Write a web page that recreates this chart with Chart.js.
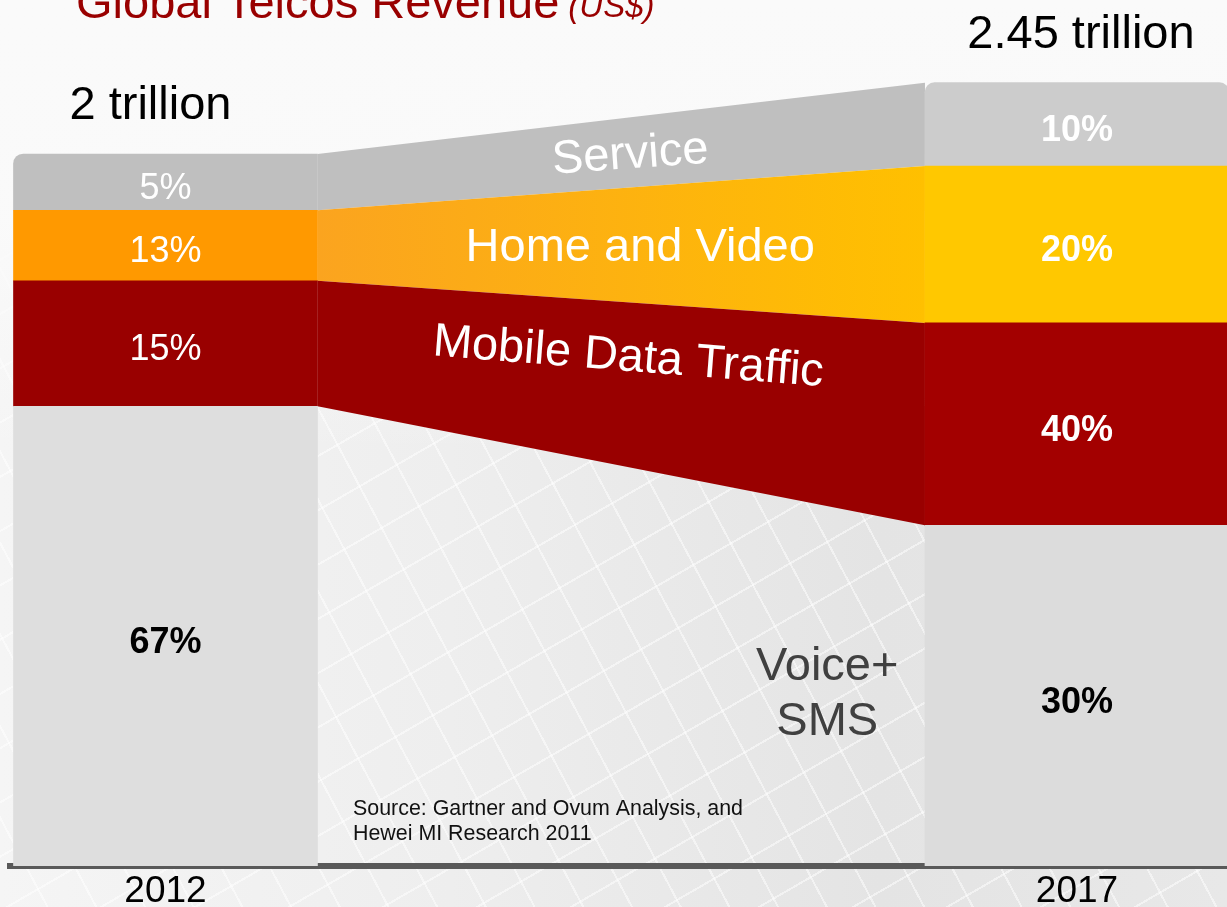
<!DOCTYPE html>
<html>
<head>
<meta charset="utf-8">
<script src="https://cdn.jsdelivr.net/npm/chart.js@4"></script>
<style>
html,body{margin:0;padding:0;background:#f7f7f7;}
#wrap{
position:relative;width:1227px;height:907px;overflow:hidden;
background:
linear-gradient(to bottom, rgba(250,250,250,1) 0px, rgba(250,250,250,0.96) 220px, rgba(250,250,250,0) 450px),
repeating-linear-gradient(62deg, rgba(255,255,255,0) 0px, rgba(255,255,255,0) 41px, rgba(255,255,255,0.5) 41px, rgba(255,255,255,0.5) 43px),
repeating-linear-gradient(-30deg, rgba(255,255,255,0) 0px, rgba(255,255,255,0) 45px, rgba(255,255,255,0.5) 45px, rgba(255,255,255,0.5) 47px),
linear-gradient(to right, #f5f5f5 0px, #eeeeee 450px, #e4e4e4 880px, #e8e8e8 1227px);
}
</style>
</head>
<body>
<div id="wrap"><canvas id="telcoChart" width="1227" height="907"></canvas></div>
<script>

const years = [2012, 2017]
const totals = ["2 trillion", "2.45 trillion"]
const bandNames = [["Voice+", "SMS"], ["Mobile Data Traffic"], ["Home and Video"], ["Service"]]

// segment heights as drawn on the slide, in % of the 2012 bar
const voice = [64.5, 47.8]
const mobile = [17.6, 28.4]
const home = [9.9, 22.0]
const service = [7.9, 11.7]

const voiceLabels = ["67%", "30%"]
const mobileLabels = ["15%", "40%"]
const homeLabels = ["13%", "20%"]
const serviceLabels = ["5%", "10%"]

const sourceLines = ["Source: Gartner and Ovum Analysis, and", "Hewei MI Research 2011"]

const FONT = '"Liberation Sans", Arial, sans-serif'
const X_MIN = 2011.147
const X_MAX = 2017.823
const BAR_PX = 304
const HALF = (BAR_PX / 2) / ((1227 - 10) / (X_MAX - X_MIN))

const series = [voice, mobile, home, service]
const segLabels = [voiceLabels, mobileLabels, homeLabels, serviceLabels]

// running tops of each segment
let tops = []
let run = [0, 0]
series.forEach(s => {
run = run.map((v, i) => v + s[i])
tops.push(run.slice())
})

const barColors = [
["#dedede", "#dcdcdc"],
["#990000", "#a30000"],
["#ff9900", "#ffc800"],
["#bfbfbf", "#cccccc"]
]

function homeGradient(context){
const chart = context.chart
const {ctx, chartArea} = chart
if(!chartArea) return "#fcaa1a"
const xs = chart.scales.x
const g = ctx.createLinearGradient(xs.getPixelForValue(years[0] + HALF), 0, xs.getPixelForValue(years[1] - HALF), 0)
g.addColorStop(0, "#fba41f")
g.addColorStop(1, "#ffc000")
return g
}

const bandFill = [null, "#990000", homeGradient, "#bfbfbf"]

let datasets = series.map((s, k) => ({
type: "bar",
label: bandNames[k].join(" "),
data: years.map((yr, i) => ({x: yr, y: [k ? tops[k - 1][i] : 0, tops[k][i]]})),
backgroundColor: barColors[k],
borderWidth: 0,
barThickness: BAR_PX,
grouped: false,
borderRadius: k === 3 ? (c => c.dataIndex === 0 ? {topLeft: 10} : {topLeft: 10, topRight: 10}) : 0
}))

// band edges between the two bars
series.forEach((s, k) => {
datasets.push({
type: "line",
label: "edge " + k,
data: [{x: years[0] + HALF, y: tops[k][0]}, {x: years[1] - HALF, y: tops[k][1]}],
borderColor: "transparent",
borderWidth: 0,
pointRadius: 0,
tension: 0,
backgroundColor: bandFill[k] || "transparent",
fill: k === 0 ? false : {target: 4 + k - 1}
})
})

// label placement relative to band centre: dx, dy, rotation (deg), colour
const bandStyle = [
{dx: 206, dy: 1, rot: 0, color: "#404040", gap: 55},
{dx: 7, dy: -26, rot: 4.5, color: "#ffffff"},
{dx: 19, dy: 3, rot: 0, color: "#ffffff"},
{dx: 9, dy: 2, rot: -4, color: "#ffffff"}
]

const textPlugin = {
id: "slideText",
afterDraw(chart){
const ctx = chart.ctx
const xs = chart.scales.x
const ys = chart.scales.y
ctx.save()

// title
ctx.textAlign = "left"
ctx.textBaseline = "alphabetic"
ctx.fillStyle = "#990000"
ctx.font = "47px " + FONT
ctx.fillText("Global Telcos Revenue", 76, 18)
let w = ctx.measureText("Global Telcos Revenue").width
ctx.font = "italic 33px " + FONT
ctx.fillText("(US$)", 76 + w + 9, 17)

// segment labels
ctx.textAlign = "center"
ctx.textBaseline = "middle"
for(let k = 0; k < 4; k++){
const meta = chart.getDatasetMeta(k)
meta.data.forEach((el, i) => {
const bold = k === 0 || i === 1
ctx.font = (bold ? "bold " : "") + "36px " + FONT
ctx.fillStyle = k === 0 ? "#000000" : "#ffffff"
ctx.fillText(segLabels[k][i], el.x, (el.y + el.base) / 2 + 7)
})
}

// totals above bars
const topMeta = chart.getDatasetMeta(3)
const totalDx = [-15, 4]
ctx.font = "47px " + FONT
ctx.fillStyle = "#000000"
ctx.textBaseline = "alphabetic"
topMeta.data.forEach((el, i) => {
ctx.fillText(totals[i], el.x + totalDx[i], el.y - 35)
})

// band names
const xL = xs.getPixelForValue(years[0] + HALF)
const xR = xs.getPixelForValue(years[1] - HALF)
const xMid = (xL + xR) / 2
ctx.textBaseline = "middle"
ctx.font = "47px " + FONT
bandNames.forEach((lines, k) => {
const lo = k ? (ys.getPixelForValue(tops[k - 1][0]) + ys.getPixelForValue(tops[k - 1][1])) / 2 : ys.getPixelForValue(0)
const hi = (ys.getPixelForValue(tops[k][0]) + ys.getPixelForValue(tops[k][1])) / 2
const st = bandStyle[k]
ctx.save()
ctx.translate(xMid + st.dx, (lo + hi) / 2 + st.dy)
ctx.rotate(st.rot * Math.PI / 180)
ctx.fillStyle = st.color
lines.forEach((t, j) => ctx.fillText(t, 0, j * (st.gap || 0)))
ctx.restore()
})

// source note
ctx.textAlign = "left"
ctx.textBaseline = "alphabetic"
ctx.font = "21.4px " + FONT
ctx.fillStyle = "#111111"
sourceLines.forEach((t, j) => ctx.fillText(t, 353, 815 + j * 25))

ctx.restore()
}
}

const chart = new Chart(document.getElementById("telcoChart"), {
type: "bar",
data: {datasets: datasets},
options: {
responsive: false,
animation: false,
devicePixelRatio: 1,
layout: {padding: {left: 10, right: 0, top: 0, bottom: -11.4}},
plugins: {
legend: {display: false},
tooltip: {enabled: false}
},
scales: {
x: {
type: "linear",
min: X_MIN,
max: X_MAX,
offset: false,
z: 1,
afterBuildTicks: axis => { axis.ticks = years.map(v => ({value: v})) },
grid: {display: false, drawTicks: false},
border: {display: true, color: "#595959", width: 6},
ticks: {
color: "#000000",
padding: 4,
font: {family: FONT, size: 37},
callback: v => String(v)
}
},
y: {
display: false,
min: 0,
max: 121.5
}
}
},
plugins: [textPlugin]
})

</script>
</body>
</html>
